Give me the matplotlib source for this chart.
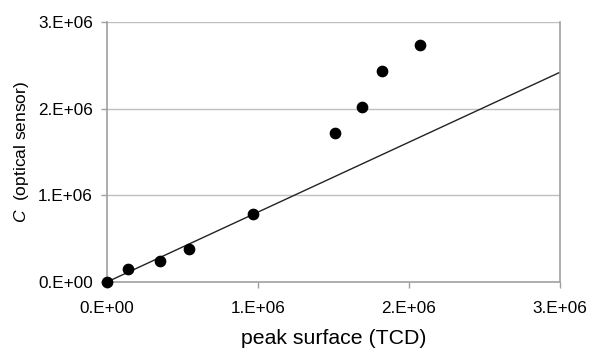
import matplotlib
matplotlib.use("Agg")
import matplotlib.pyplot as plt
import numpy as np

plt.rcParams['font.family'] = ['Liberation Sans', 'DejaVu Sans']
plt.rcParams['mathtext.fontset'] = 'custom'
plt.rcParams['mathtext.it'] = 'Liberation Sans:italic'
plt.rcParams['mathtext.rm'] = 'Liberation Sans'

# data
peak_surface = [0.0, 0.14e6, 0.35e6, 0.54e6, 0.97e6, 1.51e6, 1.69e6, 1.82e6, 2.07e6]
c_optical = [0.0, 0.15e6, 0.24e6, 0.38e6, 0.78e6, 1.72e6, 2.015e6, 2.43e6, 2.73e6]
fit_x = [0.0, 3.0e6]
fit_y = [0.0, 2.42e6]
x_ticks = [0, 1e6, 2e6, 3e6]
x_tick_labels = ["0.E+00", "1.E+06", "2.E+06", "3.E+06"]
y_ticks = [0, 1e6, 2e6, 3e6]
y_tick_labels = ["0.E+00", "1.E+06", "2.E+06", "3.E+06"]

fig = plt.figure(figsize=(5.9, 3.53), dpi=100)
ax = fig.add_axes([107/590, 1 - 282/353, (560-107)/590, (282-22)/353])

grid_c = '#c0c0c0'
ax.set_xlim(0, 3e6)
ax.set_ylim(0, 3e6)
for y in y_ticks[1:]:
    ax.axhline(y, color=grid_c, lw=1.0, zorder=1)

ax.plot(fit_x, fit_y, color='#222222', lw=1.0, zorder=2)
ax.scatter(peak_surface, c_optical, s=55, color='black', zorder=3, clip_on=False)

for side in ['left', 'bottom', 'right']:
    ax.spines[side].set_color('#a0a0a0')
    ax.spines[side].set_linewidth(1.2)
ax.spines['top'].set_visible(False)

ax.set_xticks(x_ticks)
ax.set_xticklabels(x_tick_labels)
ax.set_yticks(y_ticks)
ax.set_yticklabels(y_tick_labels)
ax.tick_params(axis='both', colors='#a0a0a0', labelcolor='black', labelsize=12.3,
               length=4, width=1)
ax.tick_params(axis='x', pad=10)
ax.tick_params(axis='y', pad=6)

ax.set_xlabel("peak surface (TCD)", fontsize=15.3, labelpad=9)
ax.set_ylabel(r"$\it{C}$  (optical sensor)", fontsize=12.5, labelpad=5)

fig.savefig("out.png", dpi=100)
